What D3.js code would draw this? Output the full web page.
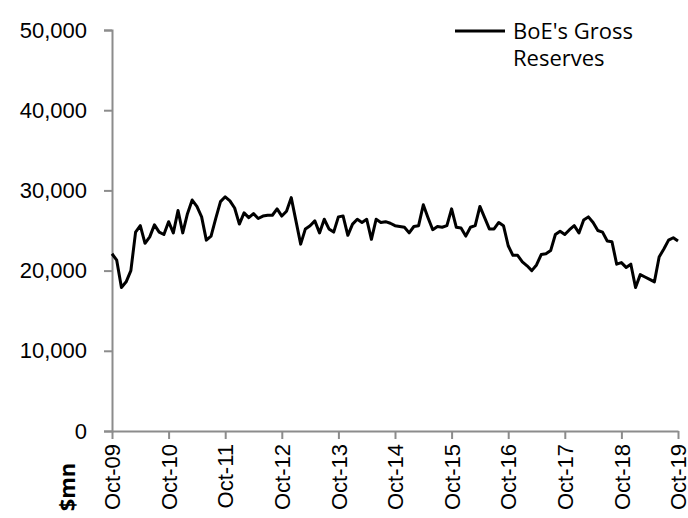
<!DOCTYPE html>
<html>
<head>
<meta charset="utf-8">
<script src="https://cdn.jsdelivr.net/npm/d3@7"></script>
<style>
  body { margin: 0; background: #fff; }
  svg { display: block; font-family: "Open Sans", "Noto Sans", sans-serif; }
</style>
</head>
<body>
<svg id="chart" width="688" height="518"></svg>
<script>
// monthly gross reserves, $mn, Oct-09 .. Oct-19
const reserves = [
  22100, 21300, 17900, 18600, 20000, 24800, 25600, 23400, 24200, 25700,
  24800, 24500, 26100, 24700, 27500, 24700, 27100, 28800, 28000, 26700,
  23800, 24300, 26500, 28600, 29200, 28700, 27800, 25800, 27200, 26600,
  27100, 26500, 26800, 26900, 26900, 27700, 26800, 27400, 29100, 26200,
  23300, 25200, 25600, 26200, 24700, 26400, 25200, 24800, 26700, 26800,
  24400, 25800, 26400, 26000, 26400, 23900, 26400, 26000, 26100, 25900,
  25600, 25500, 25400, 24700, 25500, 25600, 28200, 26600, 25100, 25500,
  25400, 25600, 27700, 25400, 25300, 24300, 25400, 25600, 28000, 26600,
  25200, 25200, 26000, 25600, 23100, 21900, 21900, 21100, 20600, 20000,
  20700, 22000, 22100, 22500, 24500, 24900, 24500, 25100, 25600, 24700,
  26300, 26700, 26000, 25000, 24800, 23700, 23600, 20800, 21000, 20400,
  20800, 17900, 19500, 19200, 18900, 18600, 21700, 22700, 23800, 24100,
  23700
];
const tickLabels = ["Oct-09", "Oct-10", "Oct-11", "Oct-12", "Oct-13", "Oct-14",
                    "Oct-15", "Oct-16", "Oct-17", "Oct-18", "Oct-19"];
const yTicks = [0, 10000, 20000, 30000, 40000, 50000];
const seriesName = ["BoE's Gross", "Reserves"];
const unitLabel = "$mn";

const svg = d3.select("#chart");
const margin = { left: 112, right: 10, top: 30, bottom: 87 };
const width = 688, height = 518;

const x = d3.scaleLinear()
  .domain([0, reserves.length - 1])
  .range([margin.left, 678]);
const y = d3.scaleLinear()
  .domain([0, 50000])
  .range([height - margin.bottom, margin.top]);

const axisColor = "#8c8c8c";
const fontSize = "22px";

// y axis
const yAxis = svg.append("g")
  .attr("transform", `translate(${margin.left},0)`)
  .call(d3.axisLeft(y).tickValues(yTicks).tickSize(8).tickPadding(17)
    .tickFormat(d3.format(",")));
yAxis.select(".domain").attr("stroke", axisColor).attr("stroke-width", 2);
yAxis.selectAll(".tick line").attr("stroke", axisColor).attr("stroke-width", 2);
yAxis.selectAll(".tick text")
  .attr("fill", "#000")
  .style("font-size", fontSize)
  .style("font-family", "inherit");

// x axis, one tick each October
const xAxis = svg.append("g")
  .attr("transform", `translate(0,${y(0)})`)
  .call(d3.axisBottom(x)
    .tickValues(tickLabels.map((d, i) => i * 12))
    .tickSize(8)
    .tickSizeOuter(0)
    .tickFormat((d, i) => tickLabels[i]));
xAxis.select(".domain").attr("stroke", axisColor).attr("stroke-width", 2);
xAxis.selectAll(".tick line").attr("stroke", axisColor).attr("stroke-width", 2);
xAxis.selectAll(".tick text")
  .attr("fill", "#000")
  .style("font-size", fontSize)
  .style("font-family", "inherit")
  .attr("text-anchor", "end")
  .attr("transform", "rotate(-90)")
  .attr("x", -13)
  .attr("y", 0)
  .attr("dy", "0.35em");

// the line
svg.append("path")
  .datum(reserves)
  .attr("fill", "none")
  .attr("stroke", "#000")
  .attr("stroke-width", 3)
  .attr("stroke-linejoin", "round")
  .attr("d", d3.line()
    .x((d, i) => x(i))
    .y(d => y(d)));

// legend
const legend = svg.append("g").attr("transform", "translate(455,31)");
legend.append("line")
  .attr("x1", 0).attr("x2", 50)
  .attr("y1", 0).attr("y2", 0)
  .attr("stroke", "#000")
  .attr("stroke-width", 3);
legend.selectAll("text")
  .data(seriesName)
  .enter()
  .append("text")
  .attr("x", 58)
  .attr("y", (d, i) => 8 + i * 27)
  .style("font-size", fontSize)
  .text(d => d);

// unit label
svg.append("text")
  .attr("transform", "translate(75,487) rotate(-90)")
  .attr("text-anchor", "middle")
  .style("font-size", fontSize)
  .style("font-weight", "bold")
  .text(unitLabel);
</script>
</body>
</html>
